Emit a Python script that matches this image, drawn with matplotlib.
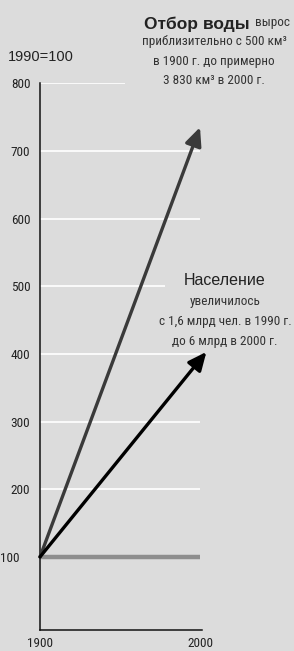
import matplotlib
matplotlib.use("Agg")
import matplotlib.pyplot as plt
import matplotlib.transforms as mtransforms
from matplotlib import font_manager

# данные
years = [1900, 2000]
water = [100, 735]
pop_years = [1900, 2004]
population = [100, 403]
base = [100, 100]
y_ticks = [100, 200, 300, 400, 500, 600, 700, 800]
grid_end = [2000, 2000, 2000, 2000, 1978, 2000, 2000, 1953]

water_lines = ["приблизительно с 500 км³", "в 1900 г. до примерно", "3 830 км³ в 2000 г."]
pop_lines = ["увеличилось", "с 1,6 млрд чел. в 1990 г.", "до 6 млрд в 2000 г."]

bg = "#dcdcdc"
wide = ["Liberation Sans", "DejaVu Sans"]

# узкий шрифт, если найдётся
narrow = {"family": ["Roboto", "DejaVu Sans"]}
for fam in ["Liberation Sans Narrow", "Roboto Condensed", "Open Sans Condensed"]:
    try:
        font_manager.findfont(font_manager.FontProperties(family=fam), fallback_to_default=False)
        narrow = {"family": [fam, "DejaVu Sans"]}
        break
    except ValueError:
        pass
else:
    p = font_manager.findfont(font_manager.FontProperties(family="DejaVu Sans", stretch="condensed"))
    if "Condensed" in p:
        narrow = {"family": ["DejaVu Sans"], "stretch": "condensed"}

W, H = 294, 651
fig = plt.figure(figsize=(W / 100, H / 100), dpi=100, facecolor=bg)
ax = fig.add_axes([40 / W, 21 / H, 160 / W, 546.7 / H])
ax.set_facecolor(bg)
ax.set_xlim(1900, 2000)
ax.set_ylim(-8, 800)

for s in ["top", "right"]:
    ax.spines[s].set_visible(False)
for s in ["left", "bottom"]:
    ax.spines[s].set_linewidth(1.1)
    ax.spines[s].set_color("#111111")
ax.spines["bottom"].set_bounds(1900, 2001)

# белые линии сетки разной длины
for v, xe in zip(y_ticks, grid_end):
    if v == 100:
        continue
    ax.plot([1900, xe], [v, v], color="white", lw=1.2, zorder=1, solid_capstyle="butt")

ax.plot(years, base, color="#8e8e8e", lw=3.2, zorder=2, solid_capstyle="butt")

ax.annotate("", xy=(years[1], water[1]), xytext=(years[0], water[0]),
            arrowprops=dict(arrowstyle="-|>,head_length=1.1,head_width=0.5",
                            color="#3a3a3a", lw=2.4, shrinkA=0, shrinkB=0),
            zorder=3, annotation_clip=False)
ax.annotate("", xy=(pop_years[1], population[1]), xytext=(pop_years[0], population[0]),
            arrowprops=dict(arrowstyle="-|>,head_length=1.1,head_width=0.5",
                            color="black", lw=2.4, shrinkA=0, shrinkB=0),
            zorder=4, annotation_clip=False)

ax.set_yticks(y_ticks)
ax.set_yticklabels([str(v) for v in y_ticks], fontsize=9.5, color="#222222", **narrow)
ax.set_xticks(years)
ax.set_xticklabels([str(v) for v in years], fontsize=9.5, color="#222222", **narrow)
ax.tick_params(length=0, pad=7)
ax.tick_params(axis="x", pad=5)

# метка 100 сдвинута левее
off = mtransforms.ScaledTranslation(-11 / 100, 0, fig.dpi_scale_trans)
lab100 = ax.get_yticklabels()[0]
lab100.set_transform(lab100.get_transform() + off)

def px(x, y):
    return x / W, 1 - y / H

fig.text(*px(8, 57), "1990=100", family=wide, fontsize=10.5, va="center", ha="left", color="#222222")

t = fig.text(*px(290, 26), "вырос", fontsize=9.5, va="baseline", ha="right", color="#333333", **narrow)
ax.annotate("Отбор воды", xy=(0, 0), xycoords=t, xytext=(-4, 0), textcoords="offset points",
            family=wide, fontsize=12.5, weight="bold", va="baseline", ha="right", color="#222222")
for i, line in enumerate(water_lines):
    fig.text(*px(214, 41 + 20 * i), line, fontsize=9.5, va="center", ha="center", color="#333333", **narrow)

fig.text(*px(225, 280), "Население", family=wide, fontsize=11.5, va="center", ha="center", color="#222222")
for i, line in enumerate(pop_lines):
    fig.text(*px(225, 301 + 20 * i), line, fontsize=9.5, va="center", ha="center", color="#333333", **narrow)

fig.savefig("out.png", dpi=100, facecolor=bg)
